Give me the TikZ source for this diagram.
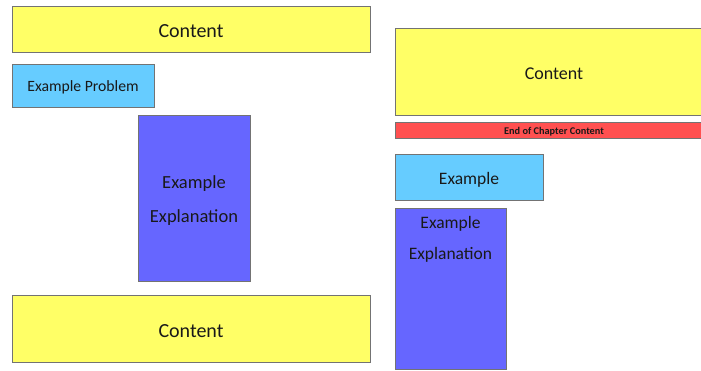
\documentclass[tikz,border=0pt]{standalone}
\usepackage{fontspec}
\setmainfont{Carlito}
\newcommand{\lowr}[2][2.5pt]{\raisebox{-#1}[\height][\depth]{#2}}
\begin{document}
\begin{tikzpicture}[x=1pt,y=-1pt,
  box/.style={draw=black!55, line width=0.8pt, anchor=north west, inner sep=0pt, outer sep=0pt, text=black!90},
  yel/.style={box, fill=yel},
  cyanbox/.style={box, fill=cyanc},
  purp/.style={box, fill=purpc},
  redbar/.style={box, fill=redc},
  txt/.style={align=center, inner sep=0pt, text=black!90},
]
\definecolor{yel}{HTML}{FFFF66}
\definecolor{cyanc}{HTML}{66CCFF}
\definecolor{purpc}{HTML}{6666FF}
\definecolor{redc}{HTML}{FF5050}
\useasboundingbox (0,0) rectangle (701,370);
\clip (0,0) rectangle (701,370);
% left column
\node[yel, minimum width=358pt, minimum height=46pt, font=\fontsize{20}{24}\selectfont] (c1) at (12,6) {\lowr{Content}};
\node[cyanbox, minimum width=142pt, minimum height=43pt, font=\fontsize{15.7}{18}\selectfont] (ep) at (12,64) {\lowr[1.5pt]{Example Problem}};
\node[purp, minimum width=112pt, minimum height=166pt] (ex1) at (138,115) {};
\node[txt, font=\fontsize{18.5}{34}\selectfont, yshift=-3pt] (ex1t) at (ex1.center) {Example\\Explanation};
\node[yel, minimum width=358pt, minimum height=67pt, font=\fontsize{20}{24}\selectfont] (c2) at (12,295) {\lowr{Content}};
% right column
\node[yel, minimum width=318pt, minimum height=87pt, font=\fontsize{18}{22}\selectfont] (c3) at (395,28) {\lowr[2pt]{Content}};
\node[redbar, minimum width=318pt, minimum height=16pt, font=\bfseries\fontsize{10.3}{11}\selectfont] (eoc) at (395,122) {\lowr[1.5pt]{End of Chapter Content}};
\node[cyanbox, minimum width=148pt, minimum height=46pt, font=\fontsize{17.5}{21}\selectfont] (ex) at (395,154) {\lowr{Example}};
\node[purp, minimum width=111pt, minimum height=161pt] (ex2) at (395,208) {};
\node[txt, anchor=north, font=\fontsize{17.5}{31}\selectfont] (ex2t) at ([yshift=-8pt]ex2.north) {Example\\Explanation};
\end{tikzpicture}
\end{document}
